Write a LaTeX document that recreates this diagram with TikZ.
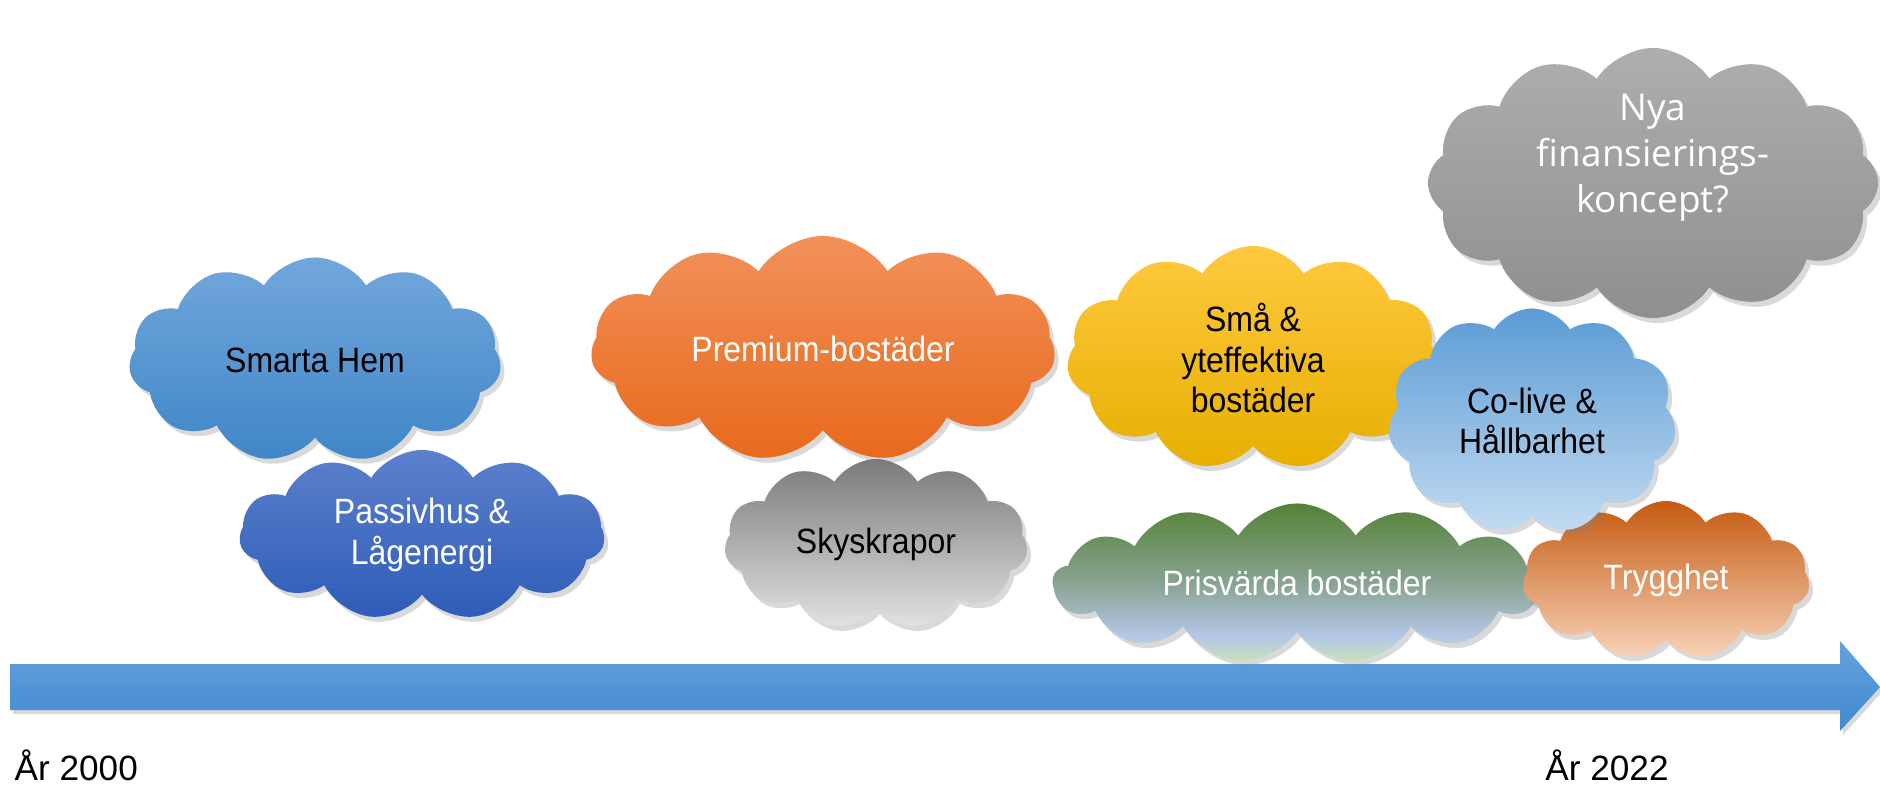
\documentclass[tikz,border=0pt]{standalone}
\usepackage{fontspec}
\setmainfont{Liberation Sans}
\newfontfamily\molnfont[FakeStretch=0.91]{Liberation Sans}
\newfontfamily\nyafont{Open Sans}
\usetikzlibrary{shapes.symbols,shadows}
\definecolor{smartTop}{HTML}{72A7DC}\definecolor{smartBot}{HTML}{3F86C7}
\definecolor{passTop}{HTML}{5C80CC}\definecolor{passBot}{HTML}{2E5CB8}
\definecolor{premTop}{HTML}{F2915A}\definecolor{premBot}{HTML}{E8691C}
\definecolor{skyTop}{HTML}{7A7A7A}\definecolor{skyMid}{HTML}{9C9C9C}\definecolor{skyBot}{HTML}{E2E2E2}
\definecolor{smaTop}{HTML}{FFC93F}\definecolor{smaMid}{HTML}{FFC000}\definecolor{smaBot}{HTML}{E6AF00}
\definecolor{nyaTop}{HTML}{AEAEAE}\definecolor{nyaBot}{HTML}{8F8F8F}
\definecolor{coTop}{HTML}{5B9BD5}\definecolor{coBot}{HTML}{C3DBF0}
\definecolor{trygTop}{HTML}{C55A11}\definecolor{trygBot}{HTML}{F8D3B9}
\definecolor{prisTop}{HTML}{548235}\definecolor{prisMid}{HTML}{88A392}
\definecolor{prisBlue}{HTML}{B4C7E7}\definecolor{prisBot}{HTML}{C5E0B4}
\definecolor{axisTop}{HTML}{64A2DF}\definecolor{axisBot}{HTML}{4289CD}
\pgfdeclareverticalshading{prisshade}{100bp}{color(0bp)=(prisBot); color(25bp)=(prisBot); color(33bp)=(prisBlue); color(50bp)=(prisMid); color(75bp)=(prisTop); color(100bp)=(prisTop)}
\tikzset{
  moln/.style={cloud, cloud puffs=11, cloud puff arc=115, cloud ignores aspect,
    inner sep=0pt, align=center, font=\molnfont\fontsize{10}{11.5}\selectfont,
    drop shadow={opacity=.3, shadow xshift=.04cm, shadow yshift=-.05cm}},
  vit/.style={text=white},
}
\begin{document}
\begin{tikzpicture}[x=0.01cm,y=-0.01cm]
  \useasboundingbox (0,0) rectangle (1880,784);
  % tidslinje
  \shade[top color=axisTop,bottom color=axisBot,drop shadow={opacity=.3,shadow xshift=.03cm,shadow yshift=-.04cm}]
    (10,664)--(1840,664)--(1840,641)--(1880,687)--(1840,731)--(1840,710)--(10,710)--cycle;
  \node[anchor=west,inner xsep=0pt,font=\fontsize{10}{12}\selectfont] (start) at (14,765) {År 2000};
  \node[font=\fontsize{10}{12}\selectfont] (slut) at (1607,765) {År 2022};
  % moln
  \node[moln,vit,minimum width=4.5cm,minimum height=2.7cm,top color=nyaTop,bottom color=nyaBot,
    cloud puffs=12,inner ysep=-.12cm,font=\nyafont\fontsize{10.5}{13}\selectfont] (nya) at (1653,183) {Nya\\finansierings-\\koncept?\\[4pt]\mbox{}};
  \node[moln,vit,minimum width=3.65cm,minimum height=1.7cm,top color=passTop,bottom color=passBot] (passiv) at (422,535) {Passivhus \&\\Lågenergi};
  \node[moln,minimum width=3.72cm,minimum height=2.05cm,top color=smartTop,bottom color=smartBot] (smart) at (315,360) {Smarta Hem};
  \node[moln,minimum width=3.03cm,minimum height=1.7cm,top color=skyTop,middle color=skyMid,bottom color=skyBot] (sky) at (876,544) {Skyskrapor};
  \node[moln,vit,minimum width=4.64cm,minimum height=2.26cm,top color=premTop,bottom color=premBot] (premium) at (823,349) {Premium-bostäder};
  \node[moln,minimum width=3.72cm,minimum height=2.24cm,top color=smaTop,middle color=smaMid,bottom color=smaBot] (sma) at (1253,358) {Små \&\\yteffektiva\\bostäder};
  \node[moln,vit,minimum width=4.88cm,minimum height=1.59cm,shading=prisshade,cloud puffs=13] (pris) at (1297,583) {Prisvärda bostäder};
  \node[moln,vit,minimum width=2.87cm,minimum height=1.58cm,top color=trygTop,bottom color=trygBot] (trygg) at (1666,580) {Trygghet};
  \node[moln,minimum width=2.88cm,minimum height=2.25cm,top color=coTop,bottom color=coBot] (colive) at (1532,421) {Co-live \&\\Hållbarhet};
\end{tikzpicture}
\end{document}
